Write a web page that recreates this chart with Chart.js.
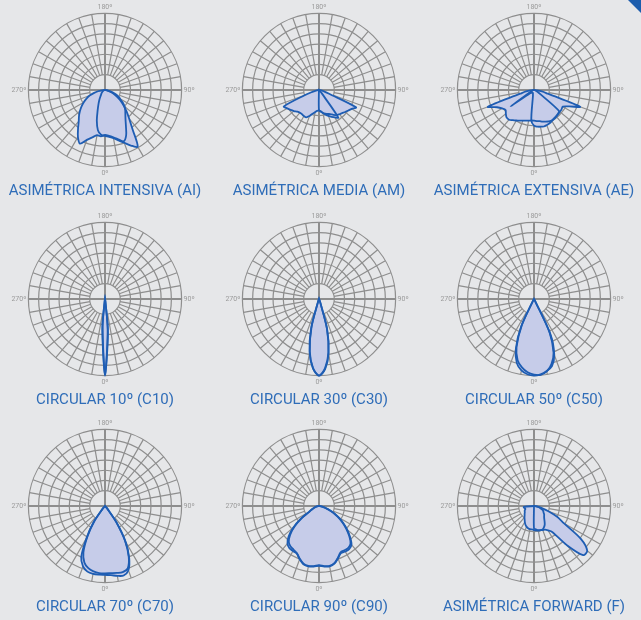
<!DOCTYPE html>
<html>
<head>
<meta charset="utf-8">
<title>Distribuciones fotométricas</title>
<script src="https://cdn.jsdelivr.net/npm/chart.js@4.4.1/dist/chart.umd.min.js"></script>
<style>
    html, body { margin: 0; padding: 0; }
    body { width: 641px; height: 620px; background: #e6e7e9; position: relative; overflow: hidden; }
    .cell { position: absolute; width: 214px; height: 208px; }
    .cell canvas { display: block; }
    .corner { position: absolute; left: 628px; top: 0; width: 13px; height: 13px; background: #1c5dad;
              clip-path: polygon(0 0, 100% 0, 100% 100%); }
</style>
</head>
<body>
<div class="corner"></div>
<div class="cell" style="left:-2px;top:0px"><canvas id="chart-ai" width="214" height="208"></canvas></div>
<div class="cell" style="left:212px;top:0px"><canvas id="chart-am" width="214" height="208"></canvas></div>
<div class="cell" style="left:427px;top:0px"><canvas id="chart-ae" width="214" height="208"></canvas></div>
<div class="cell" style="left:-2px;top:209px"><canvas id="chart-c10" width="214" height="208"></canvas></div>
<div class="cell" style="left:212px;top:209px"><canvas id="chart-c30" width="214" height="208"></canvas></div>
<div class="cell" style="left:427px;top:209px"><canvas id="chart-c50" width="214" height="208"></canvas></div>
<div class="cell" style="left:-2px;top:416px"><canvas id="chart-c70" width="214" height="208"></canvas></div>
<div class="cell" style="left:212px;top:416px"><canvas id="chart-c90" width="214" height="208"></canvas></div>
<div class="cell" style="left:427px;top:416px"><canvas id="chart-f" width="214" height="208"></canvas></div>

<script>
// ==========================================
// DATA
// gamma from -90º (270º side) through 0º (nadir) to +90º (90º side), 5º steps
// upper half of every curve is empty (no light)
// ==========================================
const gammaSteps = [-90, -85, -80, -75, -70, -65, -60, -55, -50, -45, -40, -35, -30, -25, -20, -15, -10, -5,
    0, 5, 10, 15, 20, 25, 30, 35, 40, 45, 50, 55, 60, 65, 70, 75, 80, 85, 90];
const ringValues = [0, 15, 25, 35, 45, 55, 65, 75];
const axisTickLabels = { 0: '0º', 90: '90º', 180: '180º', 270: '270º' };

const chartTitles = [
    'ASIMÉTRICA INTENSIVA (AI)', 'ASIMÉTRICA MEDIA (AM)', 'ASIMÉTRICA EXTENSIVA (AE)',
    'CIRCULAR 10º (C10)', 'CIRCULAR 30º (C30)', 'CIRCULAR 50º (C50)',
    'CIRCULAR 70º (C70)', 'CIRCULAR 90º (C90)', 'ASIMÉTRICA FORWARD (F)'
];

// Asimétrica intensiva
const aiPlaneA = [0, 3, 7, 11, 16, 20, 24, 28, 32, 36, 40, 46, 53, 58, 52, 48, 45, 45.5,
    44, 45, 47, 50, 53.5, 49, 41, 35, 31, 28, 25, 21, 17, 14, 10, 6, 3, 1, 0];
const aiPlaneB = [0, 0, 1, 1, 2, 2, 3, 3, 4, 5, 6, 8, 11, 15, 21, 31, 40, 44,
    45, 46, 48, 51, 55, 60, 64, 47, 37, 30, 24, 19, 14, 10, 7, 4, 2, 1, 0];

// Asimétrica media
const amPlaneA = [0, 1, 3, 6, 15, 38, 36, 34, 32, 30, 29, 29, 29.5, 29.5, 27, 24, 22, 20.5,
    20, 21.5, 23, 24, 25, 26, 28, 30, 31, 32, 33.5, 35, 37, 40, 10, 5, 3, 1, 0];
const amPlaneB = [0, 0, 0, 0, 0, 0, 0, 0, 0, 0, 0, 0, 0, 0, 0, 0, 0, 1,
    20, 21, 23, 25, 27, 29, 31, 33, 4, 2, 1, 0, 0, 0, 0, 0, 0, 0, 0];

// Asimétrica extensiva
const aePlaneA = [0, 3, 8, 14, 48, 40, 36, 34, 36, 38, 38, 36, 34.5, 33, 32, 31, 30.5, 30,
    30, 30.5, 31, 32, 33, 34, 34.5, 34.5, 34, 33.5, 33, 33, 32.5, 38, 48, 14, 8, 3, 0];
const aePlaneB = [0, 0, 0, 1, 2, 3, 5, 28, 5, 4, 3, 3, 3, 3, 3, 4, 6, 30,
    35, 36, 36.5, 37, 36.5, 36, 35, 34, 33.5, 33, 32, 10, 5, 3, 2, 1, 0, 0, 0];

// Circular 10º
const c10PlaneA = [0, 0, 0, 0, 0, 0, 0, 0, 0, 0, 0, 0, 0, 0, 0, 0, 2, 30,
    75, 30, 2, 0, 0, 0, 0, 0, 0, 0, 0, 0, 0, 0, 0, 0, 0, 0, 0];
const c10PlaneB = [0, 0, 0, 0, 0, 0, 0, 0, 0, 0, 0, 0, 0, 0, 0, 0, 1, 27,
    74, 33, 2, 0, 0, 0, 0, 0, 0, 0, 0, 0, 0, 0, 0, 0, 0, 0, 0];

// Circular 30º
const c30PlaneA = [0, 0, 0, 0, 0, 0, 0, 0, 0, 0, 0, 0, 0, 0, 3, 30, 53, 68,
    75, 68, 53, 30, 3, 0, 0, 0, 0, 0, 0, 0, 0, 0, 0, 0, 0, 0, 0];
const c30PlaneB = [0, 0, 0, 0, 0, 0, 0, 0, 0, 0, 0, 0, 0, 0, 2, 28, 52, 68,
    75, 69, 54, 31, 4, 0, 0, 0, 0, 0, 0, 0, 0, 0, 0, 0, 0, 0, 0];

// Circular 50º
const c50PlaneA = [0, 0, 0, 0, 0, 0, 0, 0, 0, 0, 0, 0, 2, 30, 52, 65, 71, 74,
    75, 74, 71.5, 68, 58, 38, 2, 0, 0, 0, 0, 0, 0, 0, 0, 0, 0, 0, 0];
const c50PlaneB = [0, 0, 0, 0, 0, 0, 0, 0, 0, 0, 0, 0, 2, 28, 50, 62, 68, 72,
    74, 74.5, 72, 66, 56, 36, 2, 0, 0, 0, 0, 0, 0, 0, 0, 0, 0, 0, 0];

// Circular 70º
const c70PlaneA = [0, 0, 0, 0, 0, 0, 0, 0, 0, 0, 4, 20, 36, 55, 63, 66.5, 67.5, 67.5,
    67.5, 68, 69.5, 70.5, 67, 56, 40, 20, 4, 0, 0, 0, 0, 0, 0, 0, 0, 0, 0];
const c70PlaneB = [0, 0, 0, 0, 0, 0, 0, 0, 0, 0, 3, 18, 34, 50, 59, 63, 65, 66,
    66, 66, 66.5, 67, 65, 55, 39, 19, 4, 0, 0, 0, 0, 0, 0, 0, 0, 0, 0];

// Circular 90º
const c90PlaneA = [0, 1, 2, 3.5, 5, 8, 11, 22, 33, 42, 48, 50.5, 51, 51.5, 55.5, 59, 60, 59.5,
    58.5, 59.5, 60, 58.5, 54.5, 51, 51.5, 51.5, 49.5, 43, 36, 29, 22, 16, 10, 6, 3, 1, 0];
const c90PlaneB = [0, 1, 2, 3, 5, 7, 10, 20, 31, 40, 46, 48.5, 49.5, 51, 55, 58.5, 59.5, 59,
    58, 59, 59.5, 58, 54, 50, 50, 50, 48, 42, 35, 28, 21, 15, 9, 5, 3, 1, 0];

// Asimétrica forward
const fPlaneA = [0, 0, 0, 0, 0, 0, 0, 0, 0, 0, 0, 0, 0, 0, 0, 0, 0, 0,
    22, 23, 24, 24.5, 25, 25.5, 27.5, 31, 50, 68, 68, 56, 34, 25, 15, 8, 4, 1, 0];
const fPlaneB = [0, 10, 10, 9, 9, 10, 10.5, 11, 12, 13, 14.5, 16, 18, 20, 21.5, 22.5, 23, 23,
    23.5, 24, 24.5, 24.5, 24.5, 23, 21, 18, 15.5, 14, 13, 11.5, 10.5, 9.5, 7, 5, 3, 1, 0];

// ==========================================
// STYLE
// ==========================================
const gridColor = '#8e8e8e';
const curveColor = '#1e5db3';
const fillColor = '#c6cce9';
const titleColor = '#2f6db8';
const fontFamily = 'Roboto, "Open Sans", sans-serif';

// radar labels run clockwise from the bottom (startAngle 180),
// the photometric angle grows counter-clockwise: 0º bottom, 90º right
const labelAngles = [];
for (let k = 0; k < 72; k++) labelAngles.push((360 - 5 * k) % 360);

function toRadarData(values) {
    return labelAngles.map(a => {
        const gamma = a > 180 ? a - 360 : a;
        const idx = gammaSteps.indexOf(gamma);
        return idx === -1 ? 0 : values[idx];
    });
}

function innerRadius(ctx) {
    return ctx.chart.scales.r.getDistanceFromCenterForValue(ringValues[1]);
}

function makePolarChart(canvasId, title, curves) {
    new Chart(document.getElementById(canvasId), {
        type: 'radar',
        data: {
            labels: labelAngles,
            datasets: curves.map(values => ({
                data: toRadarData(values),
                borderColor: curveColor,
                borderWidth: 1.8,
                backgroundColor: fillColor,
                fill: true,
                pointRadius: 0,
                tension: 0.3
            }))
        },
        options: {
            responsive: false,
            animation: false,
            layout: { padding: { top: 4, bottom: 0, left: 0, right: 0 } },
            plugins: {
                legend: { display: false },
                tooltip: { enabled: false },
                filler: { drawTime: 'beforeDatasetsDraw' }, // outlines stay above both fills
                title: {
                    display: true,
                    position: 'bottom',
                    text: title,
                    color: titleColor,
                    font: { family: fontFamily, size: 15, weight: '400' },
                    padding: { top: 4, bottom: 8 }
                }
            },
            scales: {
                r: {
                    min: 0,
                    max: 75,
                    startAngle: 180,
                    afterBuildTicks: scale => { scale.ticks = ringValues.map(v => ({ value: v })); },
                    ticks: { display: false },
                    grid: { circular: true, color: gridColor, lineWidth: 1.2 },
                    angleLines: {
                        color: gridColor,
                        // a spoke every 10º, the four main axes cross the centre
                        lineWidth: ctx => ctx.index % 18 === 0 ? 2 : (ctx.index % 2 ? 0 : 1.2),
                        borderDash: ctx => ctx.index % 18 === 0 ? [] : [0, innerRadius(ctx), 1000]
                    },
                    pointLabels: {
                        padding: 2,
                        color: '#9a9a9a',
                        font: { family: fontFamily, size: 7 },
                        callback: label => axisTickLabels[label] || ''
                    }
                }
            }
        }
    });
}

// ==========================================
// BUILD THE NINE DIAGRAMS
// ==========================================
makePolarChart('chart-ai', chartTitles[0], [aiPlaneA, aiPlaneB]);
makePolarChart('chart-am', chartTitles[1], [amPlaneA, amPlaneB]);
makePolarChart('chart-ae', chartTitles[2], [aePlaneA, aePlaneB]);
makePolarChart('chart-c10', chartTitles[3], [c10PlaneA, c10PlaneB]);
makePolarChart('chart-c30', chartTitles[4], [c30PlaneA, c30PlaneB]);
makePolarChart('chart-c50', chartTitles[5], [c50PlaneA, c50PlaneB]);
makePolarChart('chart-c70', chartTitles[6], [c70PlaneA, c70PlaneB]);
makePolarChart('chart-c90', chartTitles[7], [c90PlaneA, c90PlaneB]);
makePolarChart('chart-f', chartTitles[8], [fPlaneA, fPlaneB]);
</script>
</body>
</html>
